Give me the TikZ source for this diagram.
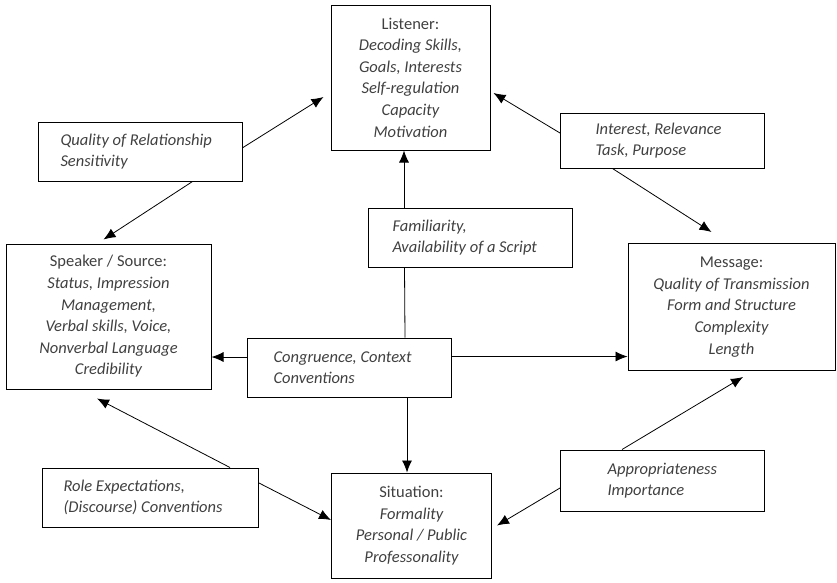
\documentclass[tikz,border=0pt]{standalone}
\usepackage{fontspec}
\setmainfont{Carlito}
\usetikzlibrary{arrows.meta}
\tikzset{
	box/.style={draw, line width=1pt, text=black!75, font=\fontsize{16.5}{21.6}\selectfont},
	agent/.style={box, align=center, inner sep=0pt},
	factor/.style={box, align=flush left, inner xsep=2pt, inner ysep=0pt, text width=#1, minimum height=59pt},
	arr/.style={line width=0.8pt, -{Latex[length=12pt,width=10pt]}}
}
\def\pad#1{\hspace*{#1}}

\begin{document}
\begin{tikzpicture}[x=1pt,y=-1pt]
			%%%%% START %%%%%
			\useasboundingbox (0,0) rectangle (837,582);
			
			\node[agent, minimum width=159pt, minimum height=145pt] (listener) at (410.5,77.5) {Listener:\\ \itshape Decoding Skills,\\ \itshape Goals, Interests\\ \itshape Self-regulation\\ \itshape Capacity\\ \itshape Motivation};
			\node[agent, minimum width=205pt, minimum height=145pt] (speaker) at (108.5,316.5) {Speaker / Source:\\ \itshape Status, Impression\\ \itshape Management,\\ \itshape Verbal skills, Voice,\\ \itshape Nonverbal Language\\ \itshape Credibility};
			\node[agent, minimum width=207pt, minimum height=127pt] (message) at (731.5,307) {Message:\\ \itshape Quality of Transmission\\ \itshape Form and Structure\\ \itshape Complexity\\ \itshape Length};
			\node[agent, minimum width=160pt, minimum height=105pt] (situation) at (411.5,525.5) {Situation:\\ \itshape Formality\\ \itshape Personal / Public\\ \itshape Professonality};
			
			% left padding of the factor boxes
			\node[factor=200pt] (qual) at (140.5,151.5) {\itshape\pad{20pt}Quality of Relationship\\ \pad{20pt}Sensitivity};
			\node[factor=200pt, minimum height=55pt] (interest) at (662.5,140.5) {\itshape\pad{33pt}Interest, Relevance\\ \pad{33pt}Task, Purpose};
			\node[factor=200pt] (famil) at (470.5,237.5) {\itshape\pad{22pt}Familiarity,\\ \pad{22pt}Availability of a Script};
			\node[factor=200pt] (congr) at (349.5,367.5) {\itshape\pad{24pt}Congruence, Context\\ \pad{24pt}Conventions};
			\node[factor=212pt] (role) at (150.5,497.5) {\itshape\pad{19pt}Role Expectations,\\ \pad{19pt}(Discourse) Conventions};
			\node[factor=200pt, minimum height=61pt] (approp) at (662.5,480.5) {\itshape\pad{45pt}Appropriateness\\ \pad{45pt}Importance};
			
			\draw[arr] ([yshift=4pt]qual.east) -- ([xshift=-7pt,yshift=-19.5pt]listener.west);
			\draw[arr] ([xshift=52pt]qual.south) -- ([xshift=-5pt,yshift=4pt]speaker.north);
			\draw[arr] ([yshift=7.5pt]interest.west) -- ([xshift=3pt,yshift=-15.5pt]listener.east);
			\draw[arr] ([xshift=-50pt]interest.south) -- ([xshift=-20pt,yshift=11pt]message.north);
			
			\draw[arr] ([xshift=-66.5pt]famil.north) -- ([xshift=-6.5pt]listener.south);
			\draw[line width=0.8pt] ([xshift=-66pt]famil.south) -- ([xshift=55.5pt]congr.north);
			\draw[arr] ([xshift=57.5pt]congr.south) -- ([xshift=-4.5pt]situation.north);
			\draw[arr] ([yshift=10.5pt]congr.west) -- ([yshift=10.5pt]congr.west -| speaker.east);
			\draw[arr] ([yshift=11pt]congr.east) -- ([yshift=11pt]congr.east -| message.west);
			
			\draw[arr] ([xshift=79.5pt]role.north) -- ([xshift=-11.5pt,yshift=-9pt]speaker.south);
			\draw[arr] ([yshift=14.5pt]role.east) -- ([yshift=5.5pt]situation.west);
			\draw[arr] ([xshift=-40.5pt]approp.north) -- ([xshift=11.5pt,yshift=-6pt]message.south);
			\draw[arr] ([yshift=-7.5pt]approp.west) -- ([xshift=5pt]situation.east);
			%%%%% END %%%%%
		\end{tikzpicture}
\end{document}
